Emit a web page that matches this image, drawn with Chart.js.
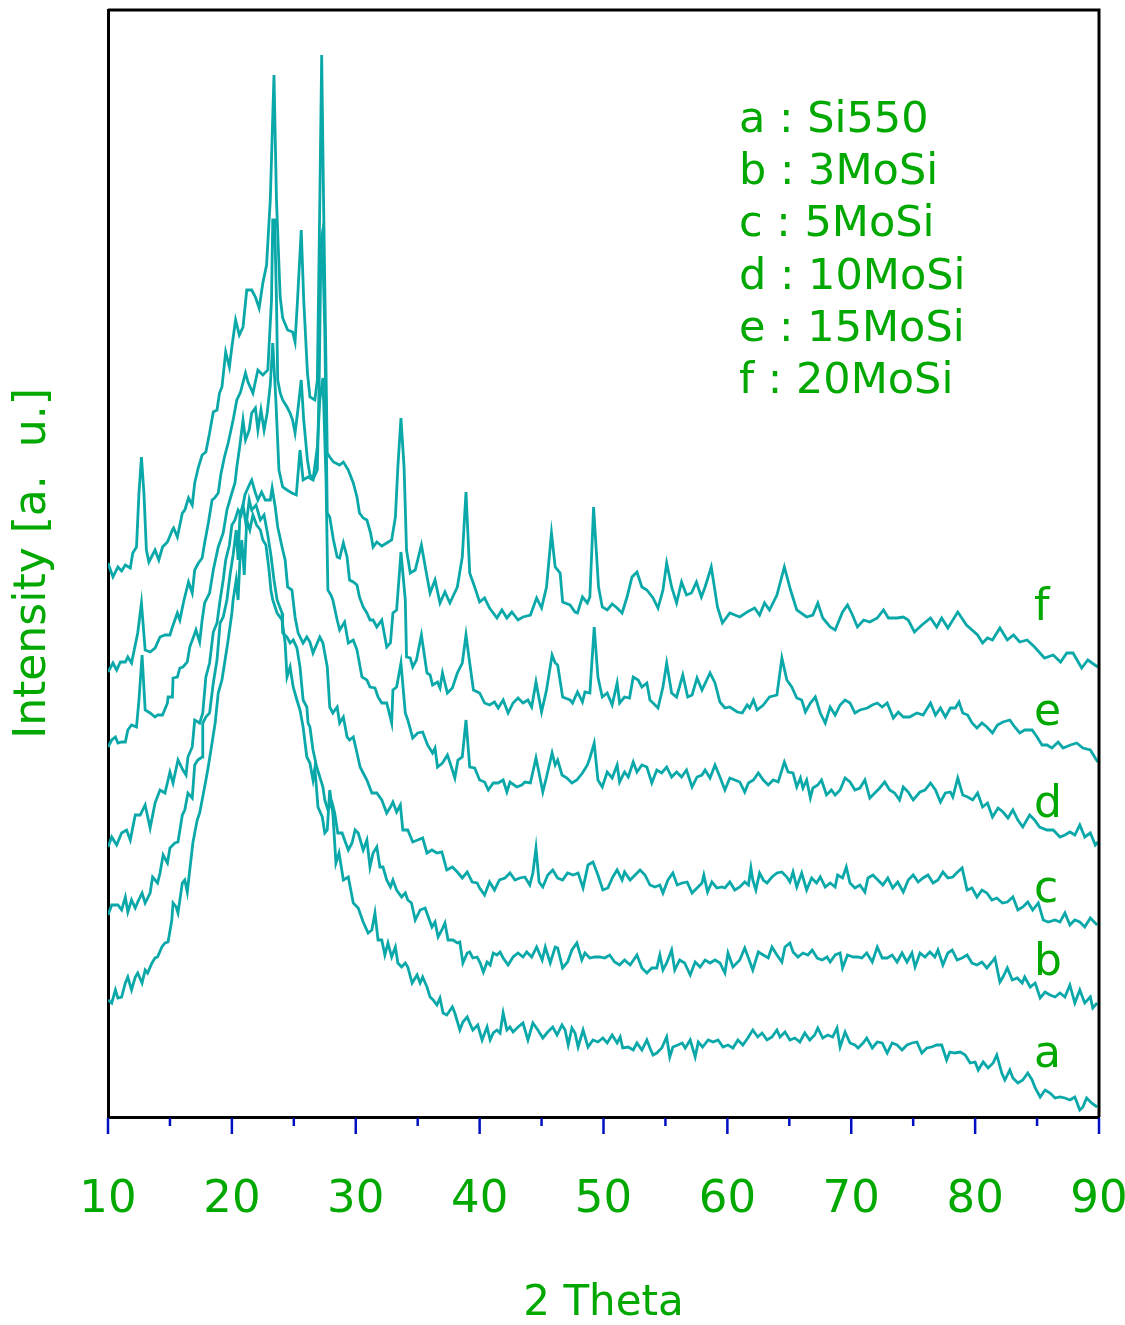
<!DOCTYPE html>
<html>
<head>
<meta charset="utf-8">
<title>XRD patterns</title>
<script src="https://cdn.jsdelivr.net/npm/chart.js@4.4.1/dist/chart.umd.min.js"></script>
<style>
  html, body { margin: 0; padding: 0; background: #fff; }
  #wrap { width: 1125px; height: 1325px; }
</style>
</head>
<body>
<div id="wrap"><canvas id="xrd"></canvas></div>
<script>
// [2theta, intensity (a.u., curves already offset)]
const curveA = [[10.0,117],[10.3,114],[10.6,127],[10.8,119],[11.1,120],[11.4,134],[11.6,140],[11.9,127],[12.2,140],[12.4,144],[12.75,134],[13.0,147],[13.2,144],[13.55,154],[13.8,159],[14.0,160],[14.35,170],[14.6,174],[14.85,175],[15.15,197],[15.25,214],[15.5,210],[15.65,204],[16.0,234],[16.2,237],[16.4,225],[16.6,247],[16.85,274],[17.2,297],[17.4,304],[17.8,330],[18.05,347],[18.4,374],[18.65,394],[18.9,424],[19.2,437],[19.45,457],[19.7,477],[20.0,504],[20.1,517],[20.35,537],[20.5,517],[20.65,557],[20.8,577],[21.0,542],[21.2,597],[21.45,587],[21.7,602],[22.0,592],[22.3,587],[22.5,577],[22.75,572],[23.0,547],[23.15,527],[23.3,517],[23.65,504],[24.05,497],[24.3,474],[24.45,440],[24.7,450],[24.95,430],[25.25,417],[25.5,407],[25.75,390],[26.05,360],[26.3,354],[26.55,337],[26.7,349],[26.95,310],[27.3,300],[27.5,284],[27.7,287],[27.9,327],[28.15,304],[28.4,254],[28.65,264],[29.0,237],[29.4,240],[29.8,214],[30.2,209],[30.6,195],[31.0,184],[31.3,187],[31.55,204],[31.8,177],[32.1,177],[32.35,162],[32.6,174],[32.9,160],[33.2,170],[33.4,154],[33.7,150],[34.0,154],[34.2,150],[34.55,134],[34.95,142],[35.2,134],[35.4,140],[35.75,130],[36.0,120],[36.25,117],[36.55,112],[36.8,119],[37.05,104],[37.35,102],[37.8,110],[38.0,104],[38.4,87],[38.65,95],[39.0,100],[39.2,94],[39.45,87],[39.85,92],[40.2,77],[40.6,90],[40.85,77],[41.1,84],[41.4,87],[41.65,84],[41.9,104],[42.2,87],[42.45,90],[42.7,85],[43.1,90],[43.5,94],[43.9,77],[44.3,94],[44.7,87],[45.1,79],[45.5,85],[45.9,90],[46.25,82],[46.65,92],[46.9,87],[47.15,72],[47.45,89],[47.7,84],[47.95,70],[48.35,87],[48.75,70],[49.15,77],[49.55,75],[49.95,79],[50.3,74],[50.7,82],[51.1,74],[51.35,80],[51.55,69],[52.0,70],[52.4,67],[52.7,74],[53.1,67],[53.5,77],[53.75,69],[54.0,62],[54.3,64],[54.7,69],[55.1,80],[55.35,60],[55.6,70],[56.0,72],[56.35,74],[56.6,69],[57.0,77],[57.4,60],[57.65,75],[58.0,70],[58.45,77],[58.85,75],[59.25,77],[59.65,70],[60.05,72],[60.45,69],[60.85,77],[61.25,72],[61.65,79],[62.05,87],[62.45,80],[62.8,84],[63.2,77],[63.6,80],[64.0,87],[64.25,80],[64.65,85],[65.05,77],[65.45,79],[65.85,75],[66.25,84],[66.65,77],[67.05,82],[67.3,89],[67.7,79],[68.1,82],[68.5,80],[68.85,89],[69.1,70],[69.5,85],[69.9,74],[70.3,72],[70.55,69],[70.95,74],[71.25,79],[71.7,69],[72.1,75],[72.5,74],[72.9,64],[73.3,74],[73.7,72],[74.1,67],[74.5,72],[74.9,74],[75.3,75],[75.7,64],[76.1,69],[76.5,70],[76.9,72],[77.3,72],[77.7,57],[77.95,65],[78.35,64],[78.8,65],[79.2,62],[79.6,54],[80.0,55],[80.25,47],[80.65,55],[81.05,49],[81.45,54],[81.75,62],[82.15,44],[82.4,37],[82.8,47],[83.05,39],[83.45,34],[83.85,37],[84.25,44],[84.6,37],[84.85,29],[85.25,20],[85.65,27],[86.05,24],[86.45,19],[86.85,20],[87.25,19],[87.65,17],[88.05,20],[88.45,7],[88.7,10],[89.0,19],[89.4,14],[89.85,10]];

const curveB = [[10.0,202],[10.3,212],[10.8,212],[11.1,207],[11.4,220],[11.6,205],[11.9,217],[12.2,209],[12.4,215],[12.75,224],[13.0,214],[13.4,224],[13.6,240],[14.0,234],[14.2,244],[14.45,262],[14.8,254],[15.0,269],[15.4,274],[15.65,275],[16.0,302],[16.2,307],[16.45,324],[16.8,319],[17.0,352],[17.25,357],[17.6,360],[17.65,394],[17.9,400],[18.2,404],[18.5,434],[18.8,457],[19.05,494],[19.3,500],[19.6,517],[19.85,542],[20.1,562],[20.35,587],[20.5,557],[20.65,602],[20.9,612],[21.15,592],[21.4,617],[21.6,607],[21.95,612],[22.3,597],[22.6,602],[22.9,582],[23.15,562],[23.4,537],[23.65,517],[24.05,504],[24.1,484],[24.45,480],[24.7,474],[24.95,477],[25.25,469],[25.5,450],[25.75,417],[26.05,410],[26.15,394],[26.3,390],[26.55,367],[26.85,350],[27.1,340],[27.35,330],[27.5,317],[27.75,307],[28.1,314],[28.3,304],[28.55,284],[28.9,284],[29.1,277],[29.4,267],[29.7,274],[29.95,287],[30.2,284],[30.6,267],[30.9,277],[31.15,250],[31.4,264],[31.7,270],[31.95,250],[32.2,250],[32.5,237],[32.8,230],[33.0,237],[33.3,227],[33.7,220],[34.0,224],[34.2,217],[34.5,214],[34.8,197],[35.2,207],[35.6,209],[35.8,202],[36.15,190],[36.4,195],[36.65,180],[36.95,187],[37.2,194],[37.45,177],[37.85,177],[38.2,174],[38.4,175],[38.65,154],[39.0,164],[39.2,165],[39.45,159],[39.8,160],[40.05,154],[40.3,145],[40.6,155],[40.85,152],[41.1,164],[41.4,162],[41.65,165],[41.9,159],[42.3,152],[42.7,160],[43.1,164],[43.5,160],[43.8,165],[44.2,160],[44.6,170],[45.05,157],[45.3,170],[45.7,154],[46.1,170],[46.3,169],[46.7,149],[47.1,155],[47.45,167],[47.85,174],[48.25,157],[48.5,164],[48.9,159],[49.3,160],[49.7,160],[50.1,159],[50.5,162],[50.9,155],[51.3,152],[51.7,157],[52.15,152],[52.7,162],[53.1,149],[53.5,144],[53.9,149],[54.3,149],[54.55,162],[54.8,147],[55.1,154],[55.5,167],[55.75,147],[56.15,157],[56.55,154],[57.0,142],[57.4,155],[57.8,150],[58.2,157],[58.6,154],[59.0,157],[59.4,154],[59.8,144],[60.05,164],[60.45,150],[61.0,157],[61.4,169],[61.7,159],[62.05,147],[62.5,165],[62.9,162],[63.3,159],[63.6,170],[64.0,162],[64.4,155],[64.65,170],[65.05,174],[65.3,165],[65.7,160],[66.1,164],[66.5,162],[66.85,167],[67.25,159],[67.65,157],[68.05,160],[68.3,155],[68.7,162],[69.1,164],[69.3,149],[69.7,162],[70.15,160],[70.55,160],[70.85,159],[71.25,164],[71.7,155],[72.1,170],[72.5,159],[72.9,159],[73.3,162],[73.7,155],[74.1,164],[74.5,155],[74.9,164],[75.15,150],[75.55,164],[75.95,160],[76.35,165],[76.75,160],[77.0,167],[77.4,152],[77.8,164],[78.15,167],[78.55,157],[78.95,159],[79.35,162],[79.75,154],[80.15,152],[80.55,155],[80.95,149],[81.35,155],[81.6,159],[82.0,135],[82.25,140],[82.6,149],[83.0,137],[83.4,139],[83.8,134],[84.0,140],[84.45,130],[84.85,134],[85.25,119],[85.65,125],[86.05,122],[86.45,120],[86.85,124],[87.25,120],[87.65,132],[88.05,114],[88.45,127],[88.85,114],[89.3,120],[89.5,109],[89.85,114]];

const curveC = [[10.0,270],[10.3,280],[10.7,272],[11.1,284],[11.5,287],[11.8,277],[12.2,302],[12.6,302],[13.0,312],[13.4,289],[13.8,314],[14.2,327],[14.6,324],[15.0,345],[15.25,334],[15.65,357],[16.05,347],[16.3,342],[16.45,360],[16.8,370],[17.0,397],[17.4,394],[17.65,404],[17.9,440],[18.2,454],[18.5,485],[18.8,494],[19.05,517],[19.3,537],[19.5,557],[19.8,572],[20.0,592],[20.25,597],[20.5,607],[20.75,602],[21.05,622],[21.4,632],[21.6,637],[21.9,624],[22.1,617],[22.4,625],[22.7,617],[23.1,617],[23.25,629],[23.5,610],[23.7,590],[24.05,570],[24.3,557],[24.5,530],[24.85,527],[25.1,500],[25.35,484],[25.75,474],[26.05,480],[26.3,475],[26.55,464],[27.1,480],[27.35,474],[27.7,450],[27.9,410],[28.15,404],[28.5,410],[28.7,394],[29.0,400],[29.3,380],[29.5,377],[29.8,380],[30.1,364],[30.35,350],[30.6,344],[30.9,337],[31.3,324],[31.7,324],[32.1,317],[32.5,304],[32.8,310],[33.0,315],[33.3,305],[33.6,312],[33.8,287],[34.2,287],[34.6,275],[35.0,277],[35.4,279],[35.75,264],[36.15,267],[36.55,264],[36.95,265],[37.35,247],[37.8,250],[38.2,245],[38.6,239],[39.0,245],[39.4,235],[39.8,234],[40.0,229],[40.4,222],[40.8,235],[41.2,227],[41.6,237],[42.05,239],[42.45,244],[42.85,237],[43.25,239],[43.65,240],[44.05,232],[44.3,244],[44.55,269],[44.8,235],[45.1,230],[45.5,242],[45.9,247],[46.3,239],[46.7,237],[47.1,244],[47.55,242],[47.95,244],[48.35,229],[48.75,252],[49.15,255],[49.55,242],[49.95,227],[50.35,229],[50.75,240],[51.1,247],[51.5,237],[51.7,245],[52.15,237],[52.55,242],[52.95,247],[53.35,242],[53.75,232],[54.15,230],[54.55,232],[54.8,224],[55.2,237],[55.6,244],[55.95,232],[56.35,234],[56.75,235],[57.15,224],[57.55,229],[57.95,234],[58.1,242],[58.4,225],[58.75,235],[59.15,229],[59.55,230],[59.8,229],[60.2,235],[60.6,227],[61.0,230],[61.4,235],[61.7,232],[61.9,249],[62.05,237],[62.3,227],[62.6,244],[62.9,237],[63.2,234],[63.6,240],[64.0,244],[64.4,245],[64.8,240],[65.05,235],[65.3,245],[65.6,230],[66.0,244],[66.4,227],[66.8,239],[67.2,234],[67.5,240],[67.9,230],[68.3,234],[68.7,230],[68.9,242],[69.3,239],[69.6,250],[69.9,234],[70.3,229],[70.7,232],[71.1,225],[71.35,239],[71.75,242],[72.15,237],[72.55,232],[72.95,239],[73.35,229],[73.75,235],[74.2,225],[74.6,237],[75.0,242],[75.4,235],[75.8,239],[76.2,242],[76.6,234],[77.0,237],[77.4,245],[77.8,239],[78.2,240],[78.5,244],[78.95,249],[79.35,227],[79.75,229],[80.15,220],[80.55,227],[80.95,224],[81.35,217],[81.75,219],[82.2,214],[82.6,215],[83.05,220],[83.45,207],[83.85,210],[84.25,215],[84.65,207],[85.1,214],[85.5,197],[85.9,195],[86.45,197],[86.85,195],[87.25,204],[87.65,192],[88.05,197],[88.45,195],[88.85,190],[89.3,199],[89.85,192]];

const curveD = [[10.0,370],[10.3,377],[10.6,380],[10.8,374],[11.1,375],[11.4,375],[11.6,387],[11.9,392],[12.3,390],[12.5,417],[12.75,462],[13.0,407],[13.4,404],[13.8,400],[14.0,402],[14.4,402],[14.8,414],[14.85,420],[15.2,420],[15.25,439],[15.6,440],[15.8,449],[16.05,450],[16.4,455],[16.6,470],[16.9,480],[17.1,487],[17.4,475],[17.6,497],[17.8,514],[18.2,524],[18.5,547],[18.9,570],[19.3,584],[19.6,607],[20.0,624],[20.25,634],[20.4,650],[20.65,672],[20.9,697],[21.1,677],[21.4,687],[21.6,704],[21.9,709],[22.1,687],[22.35,707],[22.6,687],[22.85,704],[23.1,732],[23.3,774],[23.55,717],[23.8,647],[24.1,630],[24.45,627],[24.85,624],[25.2,622],[25.5,667],[25.75,637],[26.15,640],[26.55,637],[26.9,670],[27.1,717],[27.35,739],[27.6,637],[27.75,527],[28.0,522],[28.15,517],[28.5,497],[28.7,487],[29.1,495],[29.4,474],[29.8,477],[30.1,467],[30.5,440],[30.9,437],[31.15,430],[31.55,429],[31.8,420],[32.1,414],[32.5,414],[32.9,394],[33.0,427],[33.3,430],[33.65,454],[34.0,404],[34.2,397],[34.6,379],[35.0,384],[35.4,385],[35.8,372],[36.2,364],[36.4,369],[36.6,350],[37.0,354],[37.4,362],[37.8,347],[38.0,339],[38.25,357],[38.6,360],[38.9,397],[39.2,350],[39.6,349],[40.0,337],[40.4,335],[40.7,327],[41.1,334],[41.5,334],[41.9,337],[42.2,325],[42.45,335],[43.0,330],[43.4,332],[43.65,335],[44.1,334],[44.55,359],[44.8,344],[45.1,325],[45.4,340],[45.85,364],[46.1,352],[46.3,357],[46.65,342],[47.05,339],[47.45,334],[47.85,337],[48.3,344],[48.7,352],[48.9,359],[49.25,374],[49.55,337],[49.9,330],[50.3,345],[50.7,339],[51.1,352],[51.3,335],[51.7,345],[52.0,340],[52.4,355],[52.7,345],[53.1,352],[53.5,350],[53.9,334],[54.3,347],[54.7,344],[55.1,350],[55.5,340],[55.9,345],[56.3,340],[56.7,347],[57.15,330],[57.55,340],[57.95,342],[58.2,347],[58.6,339],[59.0,352],[59.4,340],[59.8,327],[60.2,339],[60.6,337],[61.0,335],[61.4,325],[61.7,334],[62.1,337],[62.5,344],[62.9,337],[63.3,332],[63.7,337],[64.1,335],[64.6,355],[64.9,345],[65.3,344],[65.6,330],[65.9,339],[66.1,329],[66.4,337],[66.7,319],[66.9,329],[67.3,332],[67.6,337],[68.0,322],[68.4,327],[68.7,322],[69.1,327],[69.5,339],[69.9,335],[70.3,327],[70.7,329],[71.1,337],[71.5,319],[71.9,324],[72.3,329],[72.7,335],[73.1,327],[73.5,324],[73.9,317],[74.2,330],[74.6,325],[75.0,317],[75.55,325],[75.95,327],[76.4,334],[76.8,327],[77.2,315],[77.6,324],[78.0,325],[78.2,320],[78.6,339],[79.0,322],[79.4,320],[79.8,317],[80.2,324],[80.6,310],[81.0,314],[81.4,300],[81.85,309],[82.25,305],[82.65,299],[83.05,307],[83.45,297],[83.85,290],[84.4,302],[84.8,297],[85.2,290],[85.8,287],[86.3,287],[86.85,280],[87.25,282],[87.65,285],[88.05,282],[88.45,292],[88.85,280],[89.3,284],[89.7,272],[89.9,275]];

const curveE = [[10.0,445],[10.4,454],[10.7,447],[11.0,455],[11.4,455],[11.6,460],[11.9,454],[12.2,472],[12.4,484],[12.7,514],[13.0,467],[13.4,465],[13.8,469],[14.2,480],[14.6,482],[15.0,482],[15.2,490],[15.6,504],[15.8,497],[16.1,515],[16.5,535],[16.8,524],[17.0,547],[17.3,554],[17.6,559],[17.8,574],[18.1,594],[18.4,617],[18.6,619],[18.9,624],[19.1,642],[19.4,660],[19.7,674],[20.1,697],[20.4,717],[20.7,725],[21.1,744],[21.3,735],[21.7,724],[22.1,747],[22.5,742],[22.9,747],[23.2,817],[23.3,897],[23.45,897],[23.6,817],[23.7,737],[23.9,724],[24.1,717],[24.45,710],[24.7,704],[24.9,697],[25.1,684],[25.3,704],[25.6,737],[25.8,697],[26.1,657],[26.3,642],[26.6,639],[26.9,647],[27.05,737],[27.2,877],[27.3,884],[27.5,787],[27.7,604],[27.9,600],[28.2,577],[28.5,560],[28.7,559],[29.0,574],[29.3,560],[29.5,537],[29.8,535],[30.1,532],[30.3,520],[30.6,510],[30.9,504],[31.15,497],[31.4,497],[31.7,490],[32.1,497],[32.5,470],[32.8,474],[33.0,504],[33.3,507],[33.65,565],[34.0,517],[34.1,460],[34.4,459],[34.6,450],[34.9,457],[35.3,482],[35.75,444],[36.0,442],[36.2,432],[36.6,435],[36.8,429],[37.0,444],[37.4,424],[37.8,429],[38.2,444],[38.6,454],[38.9,482],[39.2,454],[39.5,427],[40.0,424],[40.4,414],[40.8,412],[41.2,415],[41.5,409],[41.9,417],[42.3,404],[42.7,414],[43.1,419],[43.5,414],[43.9,417],[44.2,410],[44.55,435],[45.0,405],[45.4,427],[45.85,462],[46.1,454],[46.3,452],[46.7,420],[47.3,417],[47.5,414],[47.9,425],[48.3,415],[48.5,425],[48.9,424],[49.25,490],[49.55,440],[49.9,420],[50.3,424],[50.7,412],[51.1,434],[51.3,414],[51.7,420],[52.1,419],[52.4,440],[52.8,437],[53.1,430],[53.5,434],[53.75,417],[54.0,414],[54.4,409],[54.8,430],[55.1,454],[55.5,424],[55.9,420],[56.4,442],[56.8,420],[57.15,422],[57.55,439],[57.95,427],[58.6,444],[59.0,434],[59.4,415],[59.8,409],[60.2,410],[60.8,405],[61.2,404],[61.6,412],[61.8,409],[62.1,417],[62.4,407],[62.9,412],[63.4,420],[64.0,422],[64.4,459],[64.8,437],[65.2,430],[65.6,419],[66.0,417],[66.3,405],[66.7,414],[67.1,420],[67.5,404],[67.9,394],[68.3,410],[68.7,402],[69.1,412],[69.5,417],[69.9,414],[70.3,404],[70.7,407],[71.3,409],[71.7,412],[72.1,414],[72.5,410],[72.9,414],[73.4,399],[73.8,405],[74.2,400],[74.7,400],[75.3,404],[75.8,402],[76.4,414],[76.8,402],[77.2,409],[77.6,400],[78.0,409],[78.4,409],[78.7,415],[79.0,404],[79.4,402],[79.75,394],[80.15,389],[80.55,394],[80.95,390],[81.4,384],[81.8,392],[82.25,395],[82.8,397],[83.2,390],[83.6,384],[84.0,387],[84.6,387],[85.0,380],[85.4,372],[85.8,372],[86.2,369],[86.7,375],[87.1,369],[87.7,372],[88.2,374],[88.7,369],[89.3,367],[89.9,355]];

const curveF = [[10.0,554],[10.4,540],[10.8,550],[11.1,546],[11.4,552],[11.8,549],[12.0,564],[12.3,570],[12.5,624],[12.7,660],[12.9,624],[13.1,567],[13.3,555],[13.8,567],[14.1,557],[14.4,570],[14.8,575],[15.2,587],[15.3,589],[15.6,580],[16.0,604],[16.2,607],[16.5,619],[16.8,612],[17.0,634],[17.3,650],[17.6,662],[17.9,665],[18.2,684],[18.5,705],[18.8,707],[19.0,724],[19.2,730],[19.5,765],[19.8,750],[20.0,770],[20.3,797],[20.6,782],[20.9,790],[21.2,827],[21.6,827],[21.9,820],[22.2,809],[22.5,834],[22.8,852],[23.1,917],[23.4,1042],[23.6,917],[23.9,820],[24.1,799],[24.5,787],[24.9,785],[25.1,775],[25.3,817],[25.6,887],[25.8,817],[26.1,744],[26.3,720],[26.7,717],[26.9,737],[27.1,917],[27.25,1062],[27.4,917],[27.7,664],[27.9,660],[28.2,655],[28.7,652],[29.0,655],[29.4,647],[29.8,634],[30.1,620],[30.3,604],[30.6,599],[30.9,597],[31.2,584],[31.4,570],[31.7,575],[32.1,571],[32.5,574],[32.9,577],[33.2,600],[33.4,650],[33.65,699],[33.9,650],[34.1,567],[34.4,544],[34.8,547],[35.3,572],[35.7,544],[36.0,524],[36.4,537],[36.8,514],[37.2,525],[37.6,514],[38.2,530],[38.6,560],[38.9,625],[39.2,544],[39.6,530],[40.0,515],[40.4,519],[40.8,509],[41.4,499],[41.8,507],[42.2,499],[42.6,505],[43.1,497],[43.5,500],[44.1,502],[44.6,519],[45.0,509],[45.4,530],[45.8,584],[46.1,550],[46.5,544],[46.7,515],[47.3,512],[47.7,505],[47.9,504],[48.3,520],[48.7,514],[48.9,520],[49.2,610],[49.6,530],[49.9,510],[50.3,507],[50.7,513],[51.1,509],[51.5,504],[51.9,520],[52.3,540],[52.7,545],[53.1,530],[53.5,527],[54.0,519],[54.4,509],[54.8,527],[55.1,554],[55.5,530],[55.9,514],[56.3,535],[56.7,522],[57.1,524],[57.5,535],[57.9,520],[58.2,530],[58.7,550],[59.2,510],[59.6,494],[60.2,504],[61.0,500],[61.6,505],[62.2,509],[62.6,502],[63.0,514],[63.4,507],[64.0,522],[64.6,550],[65.1,527],[65.6,507],[66.4,500],[66.9,502],[67.3,514],[67.7,499],[68.3,490],[68.7,487],[69.3,505],[69.7,512],[70.1,502],[70.5,490],[71.0,497],[71.5,495],[72.1,499],[72.6,507],[73.0,499],[73.7,499],[74.2,500],[74.6,497],[75.1,485],[75.7,492],[76.4,499],[76.9,490],[77.3,499],[77.8,489],[78.6,505],[79.3,492],[80.2,482],[80.6,474],[81.0,479],[81.4,477],[82.0,489],[82.6,477],[83.1,482],[83.6,475],[84.2,477],[84.8,470],[85.6,459],[86.3,462],[86.9,455],[87.4,464],[87.9,464],[88.6,449],[89.1,457],[89.9,450]];

const curveTags = ['a', 'b', 'c', 'd', 'e', 'f'];
const sampleNames = ['Si550', '3MoSi', '5MoSi', '10MoSi', '15MoSi', '20MoSi'];
const xTicks = [10, 20, 30, 40, 50, 60, 70, 80, 90];

const LINE = '#0aa8a8';
const GREEN = '#00a800';
const FONT = '"DejaVu Sans", sans-serif';

// text and frame bits chart.js doesn't draw for us
const decorations = {
    id: 'decorations',
    afterDraw(chart) {
        const ctx = chart.ctx;
        const area = chart.chartArea;
        const x = chart.scales.x;
        ctx.save();

        // top + right frame
        ctx.strokeStyle = '#000';
        ctx.lineWidth = 3;
        ctx.beginPath();
        ctx.moveTo(area.left, area.top);
        ctx.lineTo(area.right, area.top);
        ctx.lineTo(area.right, area.bottom);
        ctx.stroke();

        // tick marks below the axis, minor every 5
        ctx.strokeStyle = '#0010c0';
        ctx.lineWidth = 2.5;
        for (let v = x.min; v <= x.max; v += 5) {
            const px = x.getPixelForValue(v);
            const len = v % 10 === 0 ? 16 : 8;
            ctx.beginPath();
            ctx.moveTo(px, area.bottom + 1);
            ctx.lineTo(px, area.bottom + 1 + len);
            ctx.stroke();
        }

        // sample legend
        ctx.fillStyle = GREEN;
        ctx.font = '43px ' + FONT;
        ctx.textBaseline = 'alphabetic';
        ctx.textAlign = 'left';
        sampleNames.forEach((name, i) => {
            ctx.fillText(curveTags[i] + ' : ' + name, 739, 132 + i * 52.2);
        });

        // letters at the right end of each curve
        ctx.font = '44px ' + FONT;
        const tagBase = [1067, 975, 902, 817, 725, 620];
        curveTags.forEach((t, i) => {
            ctx.fillText(t, 1034, tagBase[i]);
        });
        ctx.restore();
    }
};

function toPoints(arr) {
    return arr.map(p => ({x: p[0], y: p[1]}));
}

const curves = [curveA, curveB, curveC, curveD, curveE, curveF];

new Chart(document.getElementById('xrd'), {
    type: 'scatter',
    data: {
        datasets: curves.map((c, i) => ({
            label: curveTags[i],
            data: toPoints(c),
            showLine: true,
            borderColor: LINE,
            borderWidth: 2.8,
            pointRadius: 0,
            tension: 0,
            fill: false
        }))
    },
    options: {
        responsive: true,
        maintainAspectRatio: false,
        animation: false,
        layout: { padding: { top: 10, right: 26, bottom: 0, left: 0 } },
        plugins: {
            legend: { display: false },
            tooltip: { enabled: false }
        },
        scales: {
            x: {
                type: 'linear',
                min: 10,
                max: 90,
                afterBuildTicks(scale) {
                    scale.ticks = xTicks.map(v => ({value: v}));
                },
                afterFit(scale) {
                    scale.height = 208;
                    scale.paddingLeft = 0;
                    scale.paddingRight = 0;
                },
                ticks: {
                    color: GREEN,
                    font: { family: FONT, size: 45 },
                    padding: 56,
                    maxRotation: 0,
                    autoSkip: false
                },
                grid: { display: true, drawOnChartArea: false, drawTicks: false },
                border: { display: true, color: '#000', width: 3 },
                title: {
                    display: true,
                    text: '2 Theta',
                    color: GREEN,
                    font: { family: FONT, size: 42, lineHeight: 1 },
                    padding: { top: 0, bottom: 0 }
                }
            },
            y: {
                type: 'linear',
                min: 0,
                max: 1107,
                afterFit(scale) {
                    scale.width = 108;
                    scale.paddingTop = 0;
                    scale.paddingBottom = 0;
                },
                ticks: { display: false },
                grid: { display: false },
                border: { display: true, color: '#000', width: 3 },
                title: {
                    display: true,
                    text: 'Intensity [a.  u.]',
                    color: GREEN,
                    font: { family: FONT, size: 44, lineHeight: 1 },
                    padding: { top: 12, bottom: 0 }
                }
            }
        }
    },
    plugins: [decorations]
});
</script>
</body>
</html>
